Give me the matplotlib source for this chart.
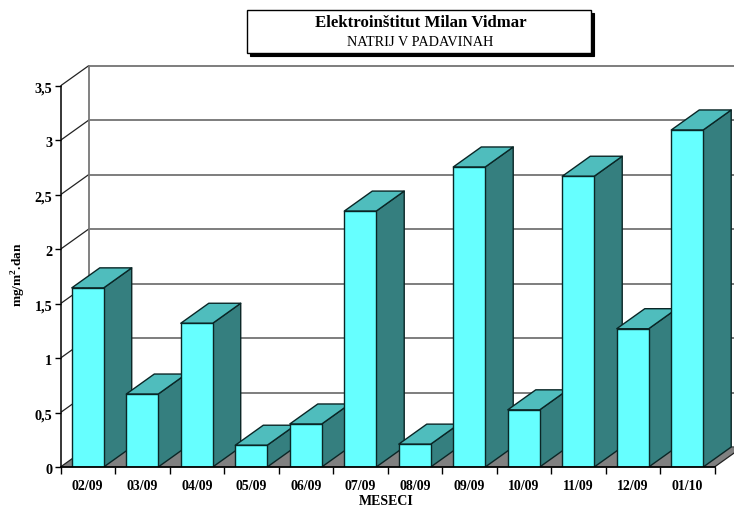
# Script: plot.py
# 3D style column chart of sodium in precipitation, per month.

import matplotlib
matplotlib.use('Agg')
from matplotlib import pyplot as plt
from matplotlib.patches import Polygon, Rectangle
from matplotlib.transforms import ScaledTranslation

# --- Data

months = ['02/09', '03/09', '04/09', '05/09', '06/09', '07/09',
          '08/09', '09/09', '10/09', '11/09', '12/09', '01/10']
values = [1.645, 0.67, 1.32, 0.20, 0.395, 2.35,
          0.21, 2.755, 0.525, 2.67, 1.27, 3.095]
y_ticks = [0, 0.5, 1, 1.5, 2, 2.5, 3, 3.5]
y_labels = ['0', '0,5', '1', '1,5', '2', '2,5', '3', '3,5']

title = 'Elektroinštitut Milan Vidmar'
subtitle = 'NATRIJ V PADAVINAH'
x_title = 'MESECI'
y_title = r'mg/m$^{\mathbf{2}}$.dan'

# --- Constants

W, H = 734, 508
X0, Y0 = 60.5, 467      # pixel position of the chart origin
CAT_PX = 54.5           # pixels per category
UNIT_PX = 108.9         # pixels per y unit
DX = 28 / CAT_PX        # depth offset, data units
DY = 20 / UNIT_PX
BAR_W = 0.586

FRONT = '#66FFFF'
TOP = '#4FBDBD'
SIDE = '#357F7F'
EDGE = '#0A2626'
GRID = '#5A5A5A'
FLOOR = '#808080'


def draw_bar(ax, i, val):
    '''
    Draws one column as front, top and side faces.
    '''
    x0 = i + (1 - BAR_W) / 2
    x1 = x0 + BAR_W
    faces = [
        ([(x1, 0), (x1 + DX, DY), (x1 + DX, val + DY), (x1, val)], SIDE),
        ([(x0, val), (x1, val), (x1 + DX, val + DY), (x0 + DX, val + DY)], TOP),
        ([(x0, 0), (x1, 0), (x1, val), (x0, val)], FRONT),
    ]
    for pts, col in faces:
        ax.add_patch(Polygon(pts, closed=True, facecolor=col, edgecolor=EDGE,
                             linewidth=1.0, joinstyle='round', zorder=3 + i * 0.01))


def main():
    plt.rcParams['font.family'] = ['Liberation Serif', 'DejaVu Serif']
    plt.rcParams['mathtext.fontset'] = 'custom'
    plt.rcParams['mathtext.rm'] = 'Liberation Serif:bold'
    plt.rcParams['mathtext.bf'] = 'Liberation Serif:bold'

    fig = plt.figure(figsize=(W / 100, H / 100), dpi=100)
    ax = fig.add_axes([X0 / W, (H - Y0) / H, (W - X0) / W, Y0 / H])
    ax.set_xlim(0, (W - X0) / CAT_PX)
    ax.set_ylim(0, Y0 / UNIT_PX)
    ax.patch.set_visible(False)

    n = len(months)

    # floor
    ax.add_patch(Polygon([(0, 0), (n, 0), (n + DX, DY), (DX, DY)], closed=True,
                         facecolor=FLOOR, edgecolor='none', zorder=1))

    # back wall grid and left wall diagonals
    for t in y_ticks:
        ax.plot([DX, ax.get_xlim()[1]], [t + DY, t + DY], color=GRID, lw=1.1, zorder=2)
        ax.plot([0, DX], [t, t + DY], color='#222222', lw=0.9, zorder=2)
    ax.plot([DX, DX], [DY, y_ticks[-1] + DY], color='#777777', lw=1.3, zorder=2)
    ax.plot([n, n + DX], [0, DY], color='#222222', lw=0.9, zorder=2)

    for i, val in enumerate(values):
        draw_bar(ax, i, val)

    # axes
    for side in ['top', 'right']:
        ax.spines[side].set_visible(False)
    ax.spines['left'].set_bounds(0, y_ticks[-1])
    ax.spines['bottom'].set_bounds(0, n)
    ax.spines['left'].set_linewidth(1.1)
    ax.spines['bottom'].set_linewidth(1.3)
    ax.spines['left'].set_zorder(5)
    ax.spines['bottom'].set_zorder(5)

    ax.set_yticks(y_ticks)
    ax.set_yticklabels(y_labels, fontweight='bold', fontsize=10.3)
    ax.tick_params(axis='y', length=4.5, width=1.0, pad=1.5)
    # labels sit a little under their ticks in the original
    shift = ScaledTranslation(0, -1.5 / 72, fig.dpi_scale_trans)
    for lab in ax.get_yticklabels():
        lab.set_transform(lab.get_transform() + shift)

    ax.set_xticks(range(n + 1))
    ax.set_xticklabels([])
    ax.tick_params(axis='x', which='major', length=5, width=1.0)
    ax.set_xticks([i + 0.5 for i in range(n)], minor=True)
    ax.set_xticklabels(months, minor=True, fontweight='bold', fontsize=10)
    ax.tick_params(axis='x', which='minor', length=0, pad=9)

    fig.text(386.5 / W, 1 - 505 / H, x_title, ha='center', va='baseline',
             fontweight='bold', fontsize=10)
    fig.text(19 / W, 1 - 275 / H, y_title, ha='center', va='center', rotation=90,
             fontweight='bold', fontsize=9.6)

    # title box with shadow
    box = (247 / W, 1 - 53 / H, 344 / W, 43 / H)
    fig.add_artist(Rectangle((box[0] + 3 / W, box[1] - 3 / H), box[2], box[3],
                             transform=fig.transFigure, facecolor='black', edgecolor='black', lw=0.8))
    fig.add_artist(Rectangle(box[:2], box[2], box[3], transform=fig.transFigure,
                             facecolor='white', edgecolor='black', lw=1.0))
    fig.text(420.5 / W, 1 - 23 / H, title, ha='center', va='center',
             fontweight='bold', fontsize=12.1)
    fig.text(420.5 / W, 1 - 42 / H, subtitle, ha='center', va='center', fontsize=10.3)

    fig.savefig('out.png', dpi=100)


if __name__ == '__main__':
    main()
